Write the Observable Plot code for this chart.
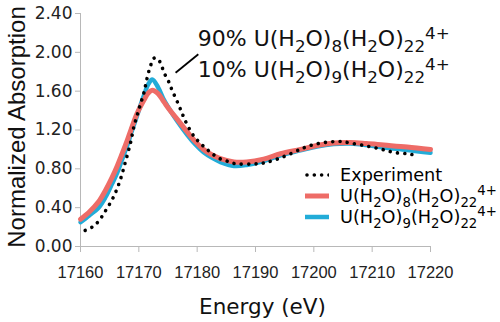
<!DOCTYPE html>
<html>
<head>
<meta charset="utf-8">
<script src="https://cdn.jsdelivr.net/npm/d3@7"></script>
<script src="https://cdn.jsdelivr.net/npm/@observablehq/plot@0.6"></script>
<style>
  body { margin: 0; background: #fff; }
  #wrap { position: relative; width: 500px; height: 322px; }
  #legend { position: absolute; left: 305px; top: 164px; font-family: "DejaVu Sans"; font-size: 17.7px; color: #000; }
  #legend .row { display: flex; align-items: center; height: 21px; white-space: nowrap; }
  #legend .row svg { margin-right: 11px; flex: none; }
  #legend sub, #legend sup { font-size: 75%; line-height: 0; }
</style>
</head>
<body>
<div id="wrap"></div>
<script>
// ---- data ----
const expEnergy = [17160.8, 17162.0, 17163.1, 17164.2, 17165.4, 17166.3, 17167.0, 17167.6, 17168.2, 17168.7, 17169.1, 17169.7, 17170.3, 17170.9, 17171.4, 17172.0, 17172.6, 17173.3, 17173.9, 17174.4, 17175.1, 17175.7, 17176.6, 17177.3, 17178.0, 17179.4, 17180.6, 17181.7, 17182.6, 17183.7, 17184.9, 17186.0, 17187.2, 17189.7, 17191.4, 17193.7, 17196.0, 17198.4, 17200.0, 17201.7, 17203.4, 17204.9, 17206.3, 17208.6, 17211.4, 17213.7, 17216.0, 17217.5];
const expValue  = [0.165, 0.20, 0.26, 0.36, 0.48, 0.60, 0.72, 0.85, 0.98, 1.10, 1.22, 1.35, 1.47, 1.59, 1.73, 1.86, 1.94, 1.93, 1.86, 1.78, 1.70, 1.61, 1.49, 1.39, 1.29, 1.14, 1.06, 1.00, 0.955, 0.91, 0.885, 0.86, 0.85, 0.85, 0.86, 0.90, 0.955, 1.02, 1.05, 1.07, 1.08, 1.08, 1.065, 1.04, 1.005, 0.97, 0.955, 0.94];

const simEnergy = [17160.0, 17161.5, 17163.1, 17164.3, 17165.4, 17166.3, 17167.1, 17168.0, 17168.7, 17169.7, 17170.9, 17171.6, 17172.3, 17173.3, 17174.3, 17175.5, 17176.6, 17178.3, 17179.7, 17181.1, 17182.5, 17184.0, 17186.3, 17188.5, 17191.4, 17194.3, 17197.7, 17200.5, 17203.4, 17206.3, 17209.0, 17212.0, 17216.0, 17220.0];
const sim8Value = [0.28, 0.355, 0.46, 0.58, 0.71, 0.83, 0.95, 1.09, 1.21, 1.37, 1.51, 1.58, 1.61, 1.575, 1.49, 1.39, 1.31, 1.18, 1.08, 1.00, 0.945, 0.905, 0.87, 0.87, 0.90, 0.955, 1.00, 1.04, 1.065, 1.07, 1.06, 1.045, 1.025, 1.00];
const sim9Value = [0.25, 0.32, 0.40, 0.51, 0.645, 0.76, 0.89, 1.04, 1.17, 1.35, 1.56, 1.67, 1.72, 1.64, 1.51, 1.39, 1.29, 1.15, 1.05, 0.97, 0.915, 0.87, 0.83, 0.84, 0.88, 0.94, 0.99, 1.03, 1.055, 1.06, 1.045, 1.02, 0.995, 0.965];

const seriesNames = ["Experiment", "U(H_{2}O)_{8}(H_{2}O)_{22}^{4+}", "U(H_{2}O)_{9}(H_{2}O)_{22}^{4+}"];
const xTicks = [17160, 17170, 17180, 17190, 17200, 17210, 17220];
const yTicks = [0, 0.4, 0.8, 1.2, 1.6, 2.0, 2.4];

const annotText = ["90% U(H_{2}O)_{8}(H_{2}O)_{22}^{4+}", "10% U(H_{2}O)_{9}(H_{2}O)_{22}^{4+}"];
const annotX = [17180.1, 17180.1];
const annotY = [2.14, 1.82];
const leaderX = [17176.3, 17180.2];
const leaderY = [1.79, 1.98];

// ---- styles ----
const RED = "#ee6c67";
const BLUE = "#22acd8";
const AXIS = "#b8b8b8";

const expData = expEnergy.map((e, i) => ({e, v: expValue[i]}));
const sim8 = simEnergy.map((e, i) => ({e, v: sim8Value[i]}));
const sim9 = simEnergy.map((e, i) => ({e, v: sim9Value[i]}));
const annot = annotText.map((t, i) => ({t, x: annotX[i], y: annotY[i]}));

const plot = Plot.plot({
  width: 500,
  height: 322,
  marginLeft: 80,
  marginRight: 70,
  marginTop: 13,
  marginBottom: 76,
  style: {fontFamily: "DejaVu Sans", background: "white", color: "#222", overflow: "visible"},
  x: {domain: [17160, 17220]},
  y: {domain: [0, 2.4]},
  marks: [
    Plot.ruleX([17160], {stroke: AXIS, strokeWidth: 1}),
    Plot.ruleY([0], {stroke: AXIS, strokeWidth: 1}),
    Plot.axisY({ticks: yTicks, tickSize: 5, tickPadding: 3, stroke: AXIS, fill: "#222",
      tickFormat: d => d.toFixed(2), label: null, fontSize: 17, fontFamily: "DejaVu Sans"}),
    Plot.axisX({ticks: xTicks, tickSize: 6, tickPadding: 14, stroke: AXIS, fill: "#222",
      tickFormat: d => String(d), label: null, fontSize: 16.5, fontFamily: "Liberation Sans"}),
    Plot.text(["Normalized Absorption"], {frameAnchor: "left", dx: -63, dy: -3, rotate: -90,
      fontSize: 24, fontFamily: "Liberation Sans", fill: "#111", textAnchor: "middle", lineAnchor: "middle"}),
    Plot.text(["Energy (eV)"], {frameAnchor: "bottom", dx: 7, dy: 61,
      fontSize: 21.5, fontFamily: "DejaVu Sans", fill: "#111", textAnchor: "middle", lineAnchor: "middle"}),
    Plot.line(sim9, {x: "e", y: "v", stroke: BLUE, strokeWidth: 4.5, curve: "catmull-rom"}),
    Plot.line(sim8, {x: "e", y: "v", stroke: RED, strokeWidth: 5, curve: "catmull-rom"}),
    Plot.line(expData, {x: "e", y: "v", stroke: "#000", strokeWidth: 3.6, strokeDasharray: "0.01 7.3",
      strokeLinecap: "round", curve: "catmull-rom"}),
    Plot.link([0], {x1: () => leaderX[0], y1: () => leaderY[0], x2: () => leaderX[1], y2: () => leaderY[1],
      stroke: "#000", strokeWidth: 1.8}),
    Plot.text(annot, {x: "x", y: "y", text: "t", textAnchor: "start", lineAnchor: "middle",
      fontSize: 22, fontFamily: "DejaVu Sans", fill: "#111"})
  ]
});

const wrap = document.getElementById("wrap");
wrap.appendChild(plot);

// rich text: _{..} subscript, ^{..} superscript
function parseRich(s) {
  const re = /([_^])\{([^}]*)\}|([^_^]+)/g;
  const out = [];
  let m;
  while ((m = re.exec(s))) {
    if (m[3] !== undefined) out.push({t: m[3], mode: "normal"});
    else out.push({t: m[2], mode: m[1] === "_" ? "sub" : "sup"});
  }
  return out;
}
const NS = "http://www.w3.org/2000/svg";
plot.querySelectorAll("text").forEach(el => {
  const s = el.textContent;
  if (!/[_^]\{/.test(s)) return;
  const fs = parseFloat(getComputedStyle(el).fontSize);
  const segs = parseRich(s);
  el.textContent = "";
  let cur = 0;
  for (const seg of segs) {
    const target = seg.mode === "sub" ? 0.27 * fs : seg.mode === "sup" ? -0.30 * fs : 0;
    const ts = document.createElementNS(NS, "tspan");
    if (seg.mode !== "normal") ts.setAttribute("font-size", (0.76 * fs) + "px");
    if (target !== cur) ts.setAttribute("dy", (target - cur).toFixed(2));
    cur = target;
    ts.textContent = seg.t;
    el.appendChild(ts);
  }
});

// legend overlay
function richHTML(s) {
  return parseRich(s).map(g => g.mode === "sub" ? `<sub>${g.t}</sub>` : g.mode === "sup" ? `<sup>${g.t}</sup>` : g.t).join("");
}
const legend = document.createElement("div");
legend.id = "legend";
const swatches = [
  `<line x1="2" y1="5" x2="24" y2="5" stroke="#000" stroke-width="3.6" stroke-dasharray="0.01 7.3" stroke-linecap="round"/>`,
  `<line x1="0" y1="5" x2="24" y2="5" stroke="${RED}" stroke-width="5"/>`,
  `<line x1="0" y1="5" x2="24" y2="5" stroke="${BLUE}" stroke-width="4.5"/>`
];
legend.innerHTML = seriesNames.map((n, i) =>
  `<div class="row"><svg width="24" height="10">${swatches[i]}</svg><span>${richHTML(n)}</span></div>`).join("");
wrap.appendChild(legend);
</script>
</body>
</html>
